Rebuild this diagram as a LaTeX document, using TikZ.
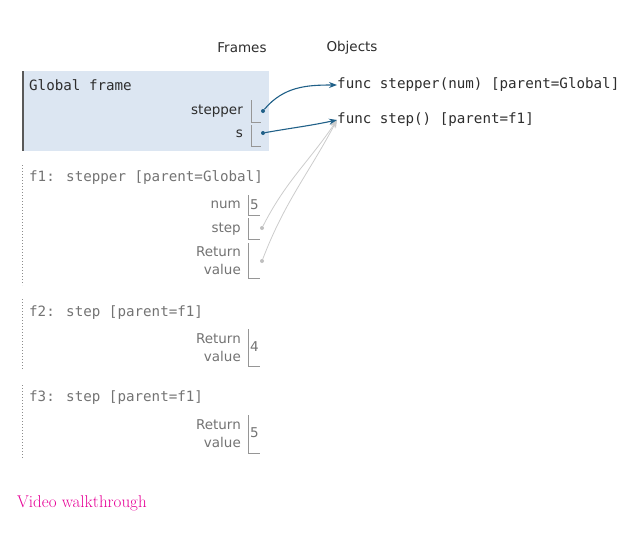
\documentclass[tikz,border=0pt]{standalone}
\usepackage{fontspec}
\usetikzlibrary{arrows.meta}
\newfontfamily\lblfont{DejaVu Sans}
\newfontfamily\codefont{DejaVu Sans Mono}
\definecolor{gblue}{RGB}{220,230,242}
\definecolor{arrblue}{RGB}{32,96,136}
\definecolor{txtdark}{RGB}{45,45,45}
\definecolor{txtgray}{RGB}{115,115,115}
\definecolor{boxgray}{RGB}{150,150,150}
\definecolor{vidpink}{RGB}{230,0,150}
\begin{document}
\begin{tikzpicture}[x=1pt,y=-1pt,
  myh/.style={font=\lblfont\fontsize{13.5}{16}\selectfont, text=txtdark, inner sep=0pt},
  myf/.style={anchor=west, font=\codefont\fontsize{14.2}{16}\selectfont, inner sep=0pt},
  myl/.style={anchor=east, align=right, font=\lblfont\fontsize{13.5}{18}\selectfont, inner sep=0pt},
  myn/.style={anchor=west, font=\lblfont\fontsize{13.5}{16}\selectfont, text=txtgray, inner sep=0pt},
  myb/.style={draw=boxgray, line width=1pt},
  myd/.style={circle, fill=arrblue, inner sep=0pt, minimum size=4pt},
  myd1/.style={circle, fill=black!25, inner sep=0pt, minimum size=4pt},
  myp/.style={draw=arrblue, line width=1.1pt, -{Stealth[length=8pt,width=6pt]}},
  myp1/.style={draw=black!20, line width=0.8pt, -{Stealth[length=8pt,width=6pt]}},
  myt/.style={draw=black!45, line width=1pt, dotted}]
  \useasboundingbox (0,0) rectangle (631,533);

  \node[myh] (frames) at (242,48) {Frames};
  \node[myh] (objects) at (352,48) {Objects};

  % global frame
  \fill[gblue] (22,71) rectangle (269,151);
  \draw[black!65, line width=2pt] (23,71) -- (23,151);
  \node[myf, text=txtdark] (gf) at (29,85) {Global frame};
  \node[myl, text=txtdark] (lstepper) at (243,111) {stepper};
  \node[myl, text=txtdark] (ls) at (243,134) {s};
  \draw[myb] (251,100) -- (251,122) -- (261,122);
  \draw[myb] (251,125) -- (251,146) -- (261,146);
  \node[myd] (dstepper) at (263,111) {};
  \node[myd] (ds) at (263,133) {};

  % objects
  \node[myf, text=txtdark] (ostepper) at (337,85) {func stepper(num) [parent=Global]};
  \node[myf, text=txtdark] (ostep) at (337,120) {func step() [parent=f1]};

  % f1
  \draw[myt] (22,165) -- (22,285);
  \node[myf, text=txtgray] (f1) at (29,178) {f1: stepper [parent=Global]};
  \node[myl, text=txtgray] (lnum) at (241,205) {num};
  \draw[myb] (248,195) -- (248,215) -- (260,215);
  \node[myn] (vnum) at (250,205) {5};
  \node[myl, text=txtgray] (lstep) at (241,229) {step};
  \draw[myb] (248,218) -- (248,239) -- (260,239);
  \node[myd1] (dstep) at (262,228) {};
  \node[myl, text=txtgray] (lret1) at (241,261) {Return\\value};
  \draw[myb] (248,243) -- (248,278) -- (260,278);
  \node[myd1] (dret) at (262,261) {};

  % f2
  \draw[myt] (22,299) -- (22,370);
  \node[myf, text=txtgray] (f2) at (29,313) {f2: step [parent=f1]};
  \node[myl, text=txtgray] (lret2) at (241,348) {Return\\value};
  \draw[myb] (248,329) -- (248,366) -- (260,366);
  \node[myn] (vret2) at (250,347) {4};

  % f3
  \draw[myt] (22,385) -- (22,458);
  \node[myf, text=txtgray] (f3) at (29,398) {f3: step [parent=f1]};
  \node[myl, text=txtgray] (lret3) at (241,434) {Return\\value};
  \draw[myb] (248,415) -- (248,453) -- (260,453);
  \node[myn] (vret3) at (250,433) {5};

  \draw[myp1] (dstep) to[out=63,in=236] (ostep.west);
  \draw[myp1] (dret) to[out=69,in=242] (ostep.west);
  \draw[myp] (dstepper) to[out=50,in=180] (ostepper.west);
  \draw[myp] (ds) to[out=10,in=192] (ostep.west);

  \node[anchor=west, inner sep=0pt, text=vidpink, font=\fontsize{17}{19}\selectfont] (video) at (17,503) {Video walkthrough};

\end{tikzpicture}
\end{document}
